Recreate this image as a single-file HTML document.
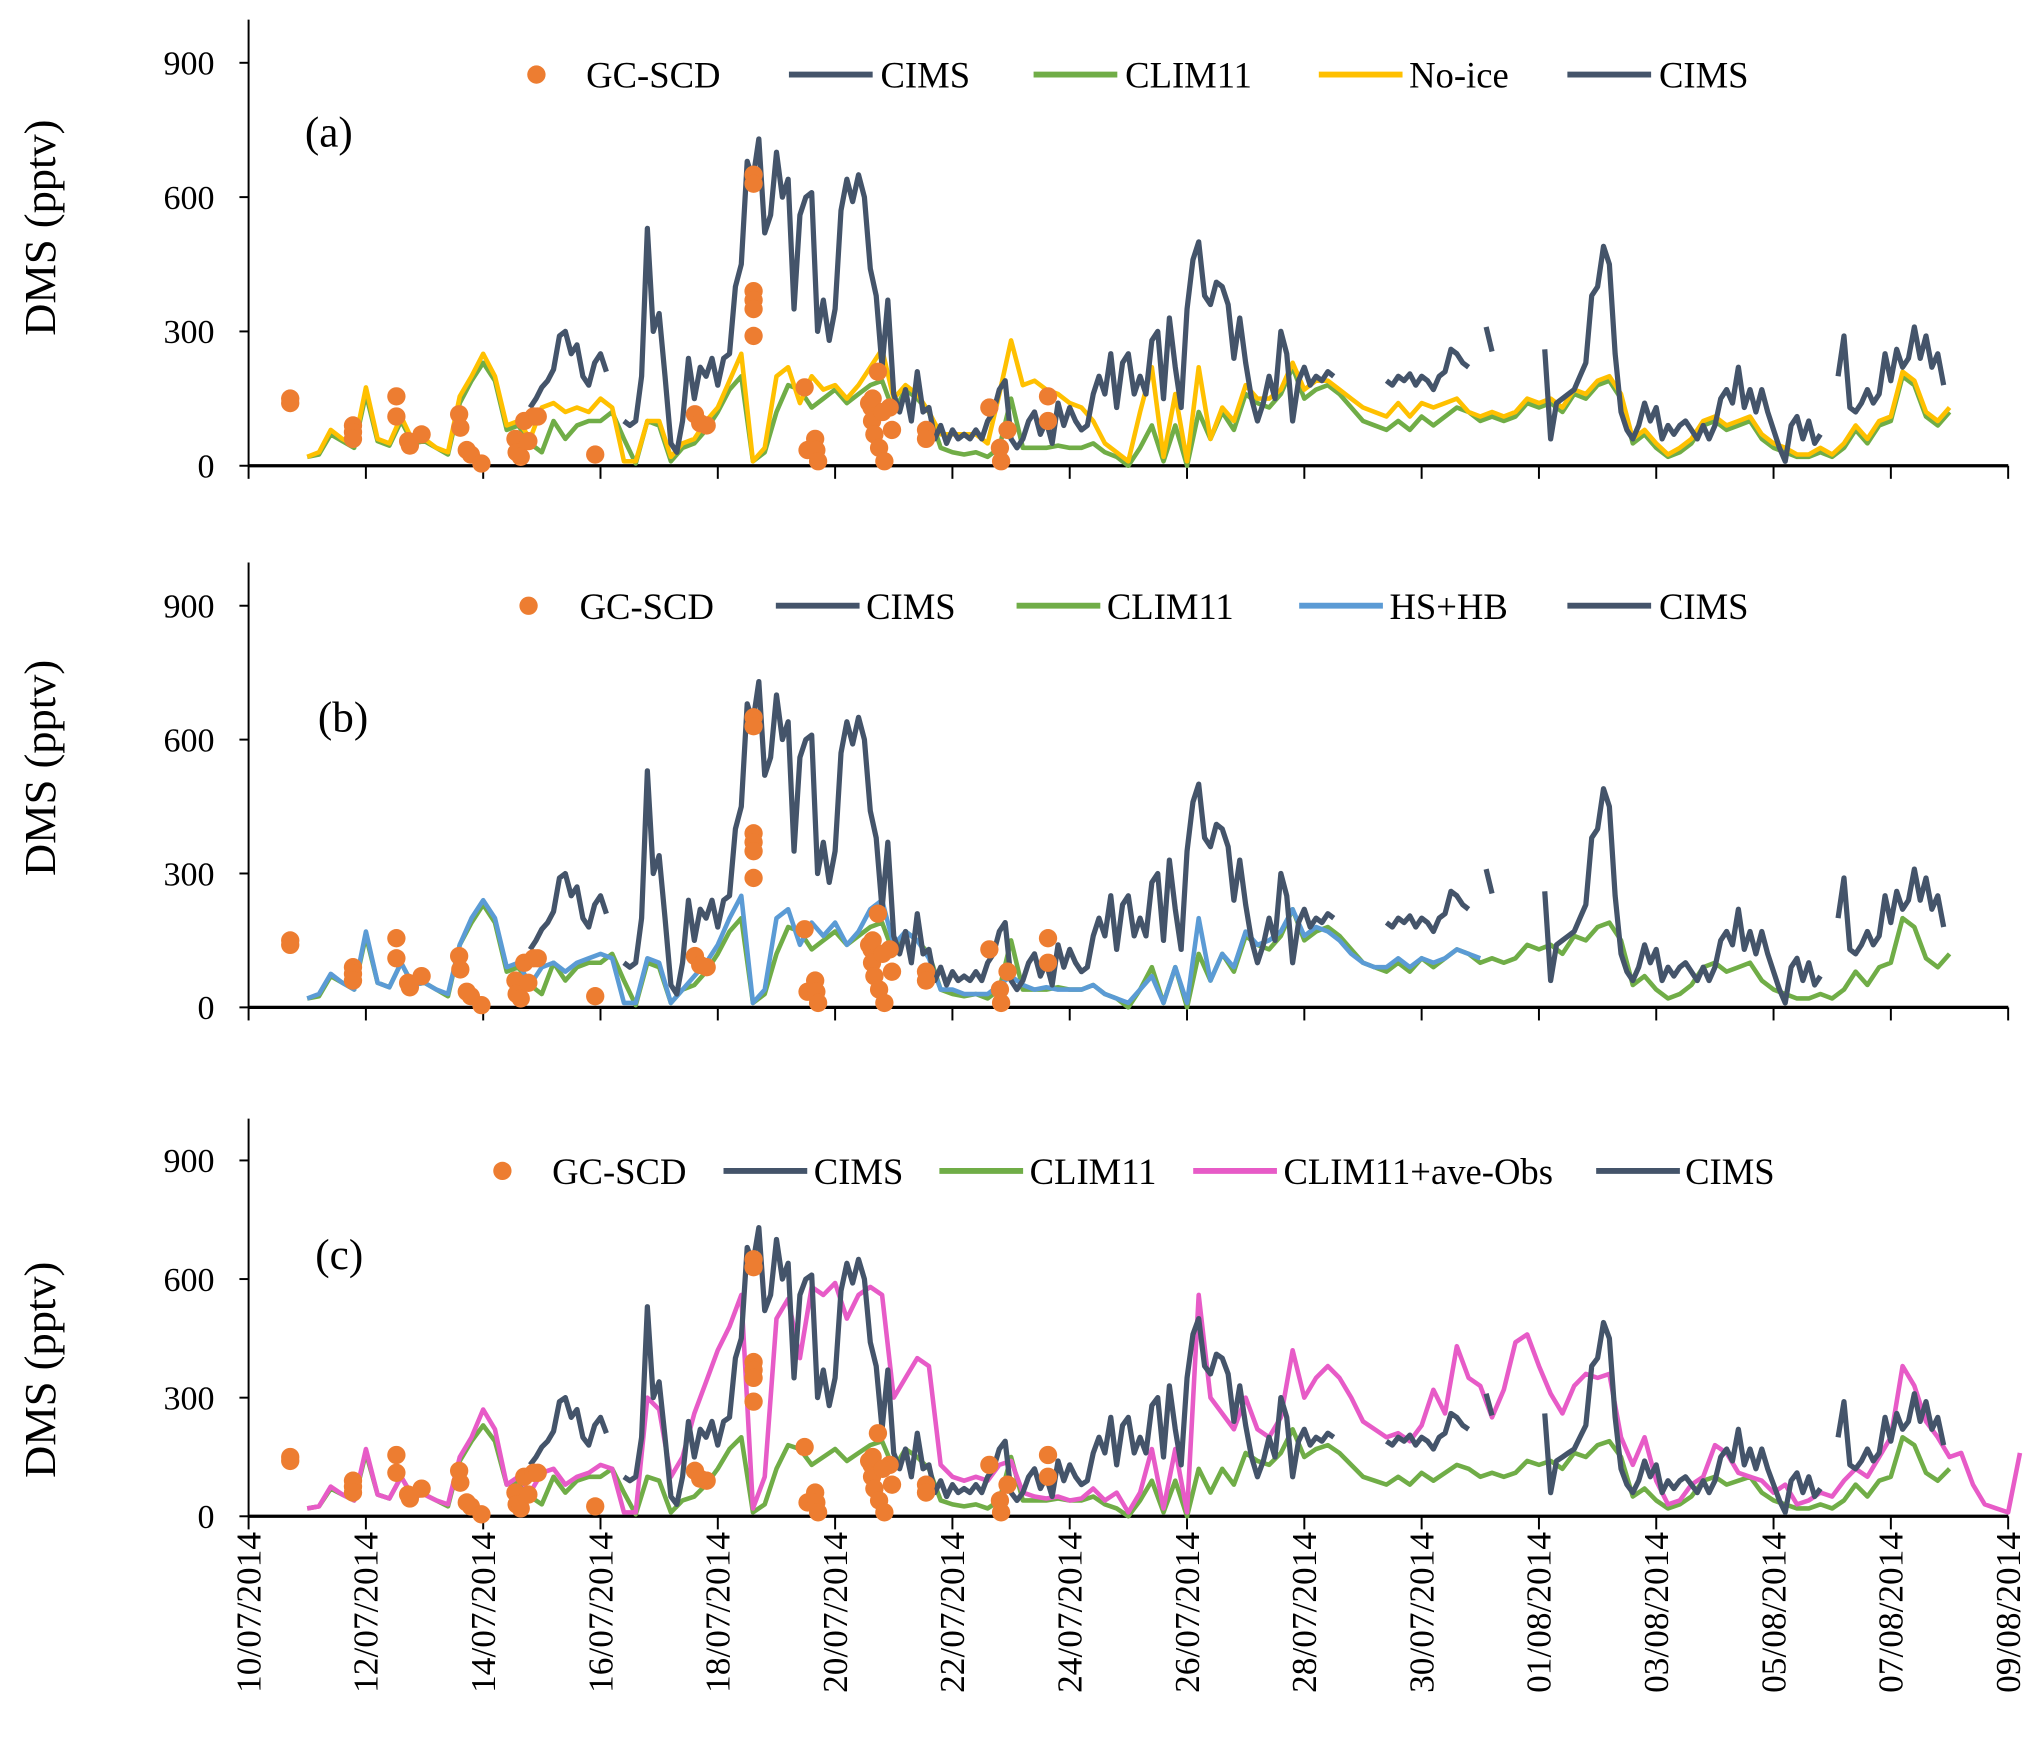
<!DOCTYPE html>
<html><head><meta charset="utf-8">
<style>
html,body{margin:0;padding:0;background:#fff;}
svg{display:block;}
text{font-family:"Liberation Serif",serif;fill:#000;}
</style></head>
<body>
<svg id="chart" width="2041" height="1740" viewBox="0 0 1560 1330" preserveAspectRatio="none" xmlns="http://www.w3.org/2000/svg"></svg>
<script>
// ---- data ----
const xTickLabels = ["10/07/2014","12/07/2014","14/07/2014","16/07/2014","18/07/2014","20/07/2014","22/07/2014","24/07/2014","26/07/2014","28/07/2014","30/07/2014","01/08/2014","03/08/2014","05/08/2014","07/08/2014","09/08/2014"];
const yTicks = [0,300,600,900];
// CIMS: start day 4.8, step 0.1 day
const cimsStart = 4.8, cimsStep = 0.1;
const cimsValues = [130,150,175,190,215,290,300,250,270,200,180,230,250,210,null,null,100,90,100,200,530,300,340,200,50,30,100,240,150,220,200,240,180,240,250,400,450,680,640,730,520,560,700,600,640,350,560,600,610,300,370,280,350,570,640,590,650,600,440,380,220,370,160,120,170,100,210,120,130,60,90,50,80,60,70,60,80,60,100,120,170,190,60,40,60,100,120,70,100,50,140,90,130,100,80,90,160,200,160,250,130,230,250,160,200,160,280,300,150,330,220,130,350,460,500,380,360,410,400,360,240,330,230,150,100,140,200,150,300,250,100,190,220,180,200,190,210,200,null,null,null,null,null,null,null,null,190,180,200,190,205,180,200,190,170,200,210,260,250,230,220,null,null,310,255,null,null,null,null,null,null,null,null,260,60,140,150,160,170,200,230,380,400,490,450,250,120,80,60,90,140,100,130,60,90,70,90,100,80,60,90,60,90,150,170,140,220,130,170,120,170,120,80,40,10,90,110,60,100,50,70,null,null,200,290,130,120,140,170,140,160,250,190,260,220,240,310,240,290,220,250,180];
// model series: start day 1.0, step 0.2 day
const modelStart = 1.0, modelStep = 0.2;
const clim11Values = [20,25,70,55,40,160,55,45,100,50,55,40,25,140,190,230,190,80,90,50,30,100,60,90,100,100,120,60,5,100,90,10,40,50,80,120,170,200,10,30,120,180,170,130,150,170,140,160,180,190,120,170,150,120,40,30,25,30,20,40,150,40,40,40,45,40,40,50,30,20,0,40,90,10,90,0,120,60,120,80,160,140,130,160,220,150,170,180,160,130,100,90,80,100,80,110,90,110,130,120,100,110,100,110,140,130,140,120,160,150,180,190,150,50,70,40,20,30,50,90,100,80,90,100,60,40,30,20,20,30,20,40,80,50,90,100,200,180,110,90,120];
const noIceValues = [20,30,80,60,45,175,60,50,110,55,60,40,30,155,200,250,200,90,100,60,130,140,120,130,120,150,130,10,10,100,100,20,50,60,100,130,190,250,10,40,200,220,140,200,170,180,150,180,220,260,150,180,160,120,70,70,70,70,50,160,280,180,190,170,160,140,130,100,50,30,10,120,220,20,160,10,220,60,130,100,180,150,150,170,230,170,190,190,170,150,130,120,110,140,110,140,130,140,150,120,110,120,110,120,150,140,150,130,170,160,190,200,160,60,80,50,25,40,60,100,110,90,100,110,70,50,40,25,25,40,25,50,90,60,100,110,210,190,120,100,130];
const hsHbValues = [20,30,75,55,40,170,55,45,100,50,55,40,30,140,200,240,200,90,100,50,90,100,80,100,110,120,110,10,10,110,100,10,40,70,100,140,200,250,10,40,200,220,140,190,160,190,140,170,220,240,140,170,150,110,40,40,30,30,30,50,70,50,40,45,40,40,40,50,30,20,10,40,70,10,90,10,200,60,120,90,170,140,150,170,220,160,180,170,150,120,100,90,90,110,90,110,100,110,130,120,110];
const aveObsValues = [20,25,75,55,40,170,55,45,100,50,55,40,30,150,200,270,220,80,100,60,110,120,80,100,110,130,120,10,10,300,270,100,150,260,340,420,480,560,20,100,500,550,400,580,560,590,500,560,580,560,300,350,400,380,130,100,90,100,90,130,140,60,50,45,50,40,45,70,40,60,10,60,170,20,170,10,560,300,260,220,300,220,200,250,420,300,350,380,350,300,240,220,200,210,190,230,320,260,430,350,330,250,320,440,460,380,310,260,330,360,350,360,200,130,200,90,30,40,80,100,180,160,110,100,90,60,80,30,40,60,50,90,120,100,150,200,380,330,240,200,150,160,80,30,20,10,160];
// GC-SCD observations
const gcDays = [0.71,0.71,1.78,1.78,1.78,2.52,2.52,2.72,2.75,2.95,3.59,3.61,3.72,3.79,3.97,4.55,4.57,4.64,4.70,4.77,4.86,4.93,5.91,7.61,7.70,7.81,8.61,8.61,8.61,8.61,8.61,8.61,9.48,9.53,9.66,9.68,9.71,10.58,10.62,10.63,10.67,10.73,10.75,10.84,10.93,10.97,10.64,10.81,11.55,11.55,12.63,12.81,12.83,12.94,13.63,13.63];
const gcValues = [140,150,90,75,60,155,110,55,45,70,115,85,35,25,5,60,30,20,100,55,110,110,25,115,95,90,650,630,390,370,350,290,175,35,60,35,10,140,130,100,70,210,40,10,130,80,150,120,80,60,130,40,10,80,155,100];

// ---- layout ----
const NS="http://www.w3.org/2000/svg";
const svg=document.getElementById('chart');
const X0=190, DAYPX=44.83, XEND=1535;
const panels=[
 {key:'a',top:15,y0:356,y900:48,label:'(a)',lx:233,ly:112,ylab:174,model:noIceValues,mcolor:'#FFC000',mname:'No-ice',
  leg:[['dot',410,448,'GC-SCD'],['#44546A',603,673,'CIMS'],['#70AD47',790,860,'CLIM11'],['#FFC000',1008,1077,'No-ice'],['#44546A',1198,1268,'CIMS']],legY:57},
 {key:'b',top:430,y0:770,y900:463,label:'(b)',lx:243,ly:559,ylab:587,model:hsHbValues,mcolor:'#5B9BD5',mname:'HS+HB',
  leg:[['dot',404,443,'GC-SCD'],['#44546A',593,662,'CIMS'],['#70AD47',777,846,'CLIM11'],['#5B9BD5',993,1062,'HS+HB'],['#44546A',1198,1268,'CIMS']],legY:463},
 {key:'c',top:855,y0:1159,y900:887,label:'(c)',lx:241,ly:970,ylab:1047,model:aveObsValues,mcolor:'#E75BC7',mname:'CLIM11+ave-Obs',
  leg:[['dot',384,422,'GC-SCD'],['#44546A',553,622,'CIMS'],['#70AD47',718,787,'CLIM11'],['#E75BC7',912,981,'CLIM11+ave-Obs'],['#44546A',1220,1288,'CIMS']],legY:895}
];
function el(tag,attrs,parent){const e=document.createElementNS(NS,tag);for(const k in attrs)e.setAttribute(k,attrs[k]);(parent||svg).appendChild(e);return e;}
function xS(d){return X0+d*DAYPX;}
function pathFor(start,step,vals,yS){let d='',pen=false;vals.forEach((v,i)=>{if(v===null){pen=false;return;}const x=xS(start+i*step).toFixed(1),y=yS(v).toFixed(1);d+=(pen?'L':'M')+x+' '+y;pen=true;});return d;}

panels.forEach(p=>{
 const g=el('g',{});
 
 
 const yS=v=>p.y0-(p.y0-p.y900)*v/900;
 const ya=el('line',{x1:X0,y1:p.top,x2:X0,y2:p.y0,stroke:'#000','stroke-width':1.5},g);
 
 
 yTicks.forEach(t=>{
  const tk=el('line',{x1:X0-7,y1:yS(t),x2:X0,y2:yS(t),stroke:'#000','stroke-width':1.5},g);
  
  
  const tl=el('text',{x:164,y:yS(t)+9,'text-anchor':'end','font-size':26},g);
  tl.textContent=t;
  
  
 });
 const yt=el('text',{x:0,y:0,'text-anchor':'middle','font-size':34,transform:`translate(42,${p.ylab}) rotate(-90)`},g);
 yt.textContent='DMS (pptv)';
 
 
 const xa=el('line',{x1:X0,y1:p.y0,x2:XEND,y2:p.y0,stroke:'#000','stroke-width':2.5},g);
 
 
 xTickLabels.forEach((lab,i)=>{
  const tx=xS(i*2);
  const tk=el('line',{x1:tx,y1:p.y0,x2:tx,y2:p.y0+10,stroke:'#000','stroke-width':1.5},g);
  
  
  if(p.key==='c'){
   const tl=el('text',{x:0,y:0,'text-anchor':'end','font-size':27,transform:`translate(${tx+9},${p.y0+12}) rotate(-90)`},g);
   tl.textContent=lab;
   
   
  }
 });
 const gl=el('path',{d:pathFor(modelStart,modelStep,clim11Values,yS),fill:'none',stroke:'#70AD47','stroke-width':3.5,'stroke-linejoin':'round'},g);
 
 
 const ml=el('path',{d:pathFor(modelStart,modelStep,p.model,yS),fill:'none',stroke:p.mcolor,'stroke-width':3.5,'stroke-linejoin':'round'},g);
 
 
 const cl=el('path',{d:pathFor(cimsStart,cimsStep,cimsValues,yS),fill:'none',stroke:'#44546A','stroke-width':4,'stroke-linejoin':'round'},g);
 
 
 gcDays.forEach((d,i)=>{
  const c=el('circle',{cx:xS(d),cy:yS(gcValues[i]),r:7,fill:'#ED7D31'},g);
  
  
 });
 const pl=el('text',{x:p.lx,y:p.ly,'font-size':33},g);
 pl.textContent=p.label;
 
 
 const lg=el('g',{},g);
 
 
 p.leg.forEach(it=>{
  const e=el('g',{},lg);
  
  
  if(it[0]==='dot'){el('circle',{cx:it[1],cy:p.legY,r:7,fill:'#ED7D31'},e);}
  else{el('line',{x1:it[1],y1:p.legY,x2:it[1]+64,y2:p.legY,stroke:it[0],'stroke-width':4.5},e);}
  const t=el('text',{x:it[2],y:p.legY+10,'font-size':28},e);
  t.textContent=it[3];
 });
});
</script>
</body></html>
